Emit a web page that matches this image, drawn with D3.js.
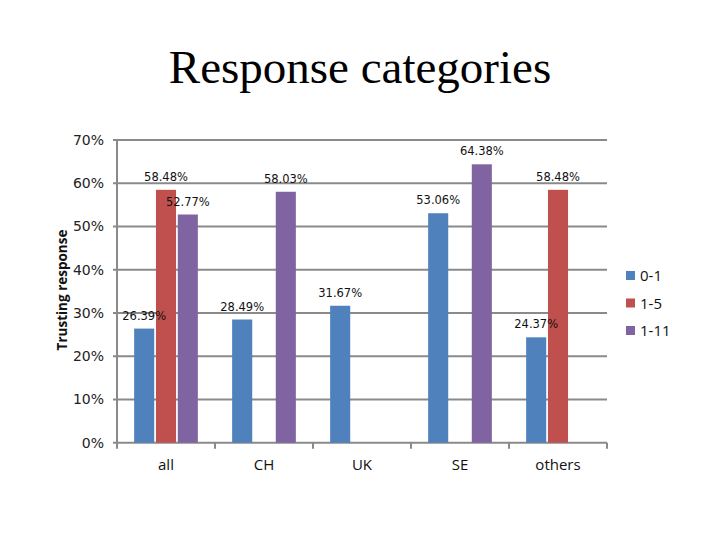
<!DOCTYPE html>
<html><head><meta charset="utf-8">
<script src="https://cdn.jsdelivr.net/npm/d3@7"></script>
<style>body{margin:0;background:#fff}svg{display:block}</style>
</head><body>
<svg id="c" width="720" height="540"></svg>
<script>
const categories = ["all", "CH", "UK", "SE", "others"];
const seriesNames = ["0-1", "1-5", "1-11"];
const s01 = [26.39, 28.49, 31.67, 53.06, 24.37];
const s15 = [58.48, null, null, null, 58.48];
const s111 = [52.77, 58.03, null, 64.38, null];
const yTicks = [0, 10, 20, 30, 40, 50, 60, 70];
const colors = ["#4F81BD", "#C0504D", "#8064A2"];

(function () {
const seriesVals = [s01, s15, s111];
const svg = d3.select("#c");
const pLeft = 117, pRight = 607, pTop = 140, pBottom = 442.7;

const y = d3.scaleLinear().domain([0, 70]).range([pBottom, pTop]);
const x0 = d3.scaleBand().domain(categories).range([pLeft, pRight])
  .paddingInner(0.35).paddingOuter(0.175);
const x1 = d3.scaleBand().domain(seriesNames).range([0, x0.bandwidth()]).paddingInner(0.08);

// gridlines
svg.append("g").selectAll("line").data(yTicks).join("line")
  .attr("x1", pLeft - 4).attr("x2", pRight)
  .attr("y1", d => y(d)).attr("y2", d => y(d))
  .attr("stroke", "#8a8a8a").attr("stroke-width", 2);

// y axis line
svg.append("line").attr("x1", pLeft).attr("x2", pLeft).attr("y1", pTop).attr("y2", pBottom)
  .attr("stroke", "#8a8a8a").attr("stroke-width", 2);

// x tick marks at boundaries
const step = x0.step();
const bounds = d3.range(categories.length + 1).map(i => pLeft + i * step);
svg.append("g").selectAll("line").data(bounds).join("line")
  .attr("x1", d => d).attr("x2", d => d).attr("y1", pBottom).attr("y2", pBottom + 6)
  .attr("stroke", "#8a8a8a").attr("stroke-width", 2);

// y tick labels
svg.append("g").selectAll("text").data(yTicks).join("text")
  .attr("x", 104).attr("y", d => y(d) + 5)
  .attr("text-anchor", "end")
  .attr("font-family", "DejaVu Sans").attr("font-size", 14).attr("fill", "#222")
  .text(d => d + "%");

// category labels
svg.append("g").selectAll("text").data(categories).join("text")
  .attr("x", d => x0(d) + x0.bandwidth() / 2).attr("y", 470)
  .attr("text-anchor", "middle")
  .attr("font-family", "Open Sans").attr("font-size", 15).attr("fill", "#111")
  .text(d => d);

// bars
const barData = [];
seriesVals.forEach((vals, si) => vals.forEach((v, ci) => {
  if (v !== null) barData.push({ s: seriesNames[si], si, c: categories[ci], v });
}));
svg.append("g").selectAll("rect").data(barData).join("rect")
  .attr("x", d => x0(d.c) + x1(d.s)).attr("width", x1.bandwidth())
  .attr("y", d => y(d.v)).attr("height", d => pBottom - y(d.v))
  .attr("fill", d => colors[d.si]);

// data labels
svg.append("g").selectAll("text").data(barData).join("text")
  .attr("x", d => x0(d.c) + x1(d.s) + x1.bandwidth() / 2)
  .attr("y", d => y(d.v) - 9)
  .attr("text-anchor", "middle")
  .attr("font-family", "DejaVu Sans").attr("font-size", 11.5).attr("fill", "#111")
  .text(d => d.v.toFixed(2) + "%");

// axis title
svg.append("text")
  .attr("transform", "translate(67,290) rotate(-90)")
  .attr("text-anchor", "middle")
  .attr("font-family", "Open Sans").attr("font-weight", "bold").attr("font-size", 13.5)
  .attr("fill", "#111")
  .text("Trusting response");

// title
svg.append("text").attr("x", 360).attr("y", 83).attr("text-anchor", "middle")
  .attr("font-family", "Liberation Serif").attr("font-size", 47).attr("fill", "#000")
  .text("Response categories");

// legend
const lg = svg.append("g").selectAll("g").data(seriesNames).join("g")
  .attr("transform", (d, i) => `translate(626,${271 + i * 27.5})`);
lg.append("rect").attr("width", 9).attr("height", 9).attr("fill", (d, i) => colors[i]);
lg.append("text").attr("x", 14).attr("y", 10)
  .attr("font-family", "Open Sans").attr("font-size", 15).attr("fill", "#111")
  .text(d => d);
})();
</script>
</body></html>
